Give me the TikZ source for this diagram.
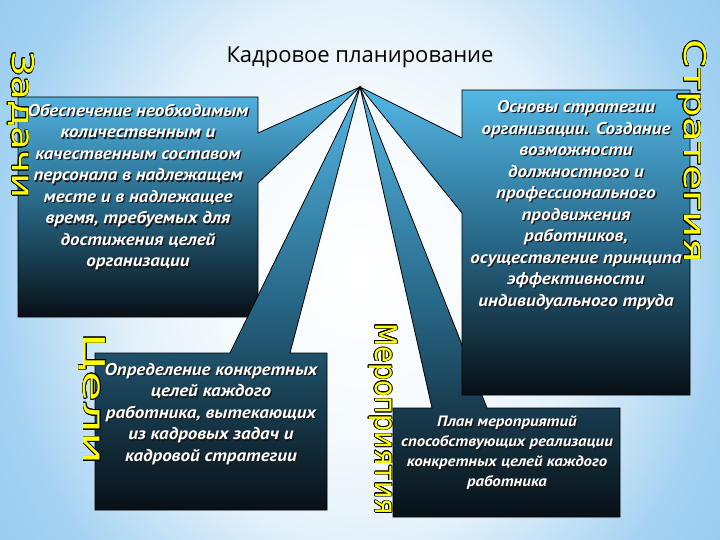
\documentclass[tikz,border=0pt]{standalone}
\usepackage{fontspec}
\usepackage{contour}
\setmainfont{Open Sans}
\newfontfamily\boxfont[FakeStretch=1.12]{PT Sans}
\newfontfamily\labelfont{DejaVu Sans}
\contourlength{0.55pt}

\definecolor{BoxTop}{RGB}{84,184,230}
\definecolor{BoxMid}{RGB}{40,104,136}
\definecolor{BoxBottom}{RGB}{8,16,22}
\definecolor{PaleSky}{RGB}{228,241,250}
\definecolor{NearWhite}{RGB}{244,250,253}
\definecolor{EdgeSky}{RGB}{166,211,242}
\definecolor{DeepSky}{RGB}{146,201,239}
\definecolor{LabelYellow}{RGB}{255,255,0}

\pgfdeclareradialshading{backdrop}{\pgfpoint{0bp}{0bp}}{color(0bp)=(white); color(10bp)=(NearWhite); color(16bp)=(PaleSky); color(25bp)=(EdgeSky); color(32bp)=(DeepSky); color(50bp)=(DeepSky)}

\tikzset{
  callout/.style={draw=black,line width=0.8pt,top color=BoxTop,bottom color=BoxBottom,middle color=BoxMid},
  boxtext/.style={text=white,align=center,inner sep=0pt,font=\boxfont\bfseries\itshape\fontsize{17}{21.5}\selectfont},
  smalltext/.style={font=\boxfont\bfseries\itshape\fontsize{15}{20}\selectfont},
  vlabel/.style={rotate=-90,inner sep=0pt,text=LabelYellow,font=\labelfont\fontsize{30}{30}\selectfont}
}

% white text with a dark drop shadow
\newcommand{\shadowed}[4][]{%
  \node[boxtext,#1,text=black!90,xshift=1.3pt,yshift=-1.3pt] at (#3) {#4};
  \node[boxtext,#1] (#2) at (#3) {#4};}

\begin{document}
\begin{tikzpicture}[x=1pt,y=-1pt]
\useasboundingbox (0,0) rectangle (720,540);
\begin{scope}
\clip (0,0) rectangle (720,540);
\shade[shading=backdrop] (0,-150) rectangle (720,690);
\end{scope}

\node[font=\fontsize{22}{26}\selectfont] (title) at (360,57) {Кадровое планирование};
\coordinate (apex) at (360,87);

% callouts
\path[callout] (18,97) -- (258,97) -- (258,133) -- (apex) -- (258,183) -- (258,317) -- (18,317) -- cycle;
\path[callout] (393,408) -- (432,408) -- (apex) -- (487,408) -- (620,408) -- (620,517) -- (393,517) -- cycle;
\path[callout] (462,90) -- (690,90) -- (690,395) -- (462,395) -- (462,213) -- (apex) -- (462,138) -- cycle;
\path[callout] (95,353) -- (230,353) -- (apex) -- (290,353) -- (327,353) -- (327,510) -- (95,510) -- cycle;

\shadowed{tasks}{138,187}{Обеспечение необходимым\\ количественным и\\ качественным составом\\ персонала в надлежащем\\ месте и в надлежащее\\ время, требуемых для\\ достижения целей\\ организации}
\shadowed{strategy}{576,205}{Основы стратегии\\ организации. Создание\\ возможности\\ должностного и\\ профессионального\\ продвижения\\ работников,\\ осуществление принципа\\ эффективности\\ индивидуального труда}
\shadowed{goals}{211,414}{Определение конкретных\\ целей каждого\\ работника, вытекающих\\ из кадровых задач и\\ кадровой стратегии}
\shadowed[smalltext]{measures}{507,453}{План мероприятий\\ способствующих реализации\\ конкретных целей каждого\\ работника}

% vertical headings
\node[vlabel,xscale=1.29] (zadachi) at (21,125) {\contour{black}{Задачи}};
\node[vlabel,xscale=1.35] (strategiya) at (692,151) {\contour{black}{Стратегия}};
\node[vlabel,xscale=1.64] (celi) at (92,399) {\contour{black}{Цели}};
\node[vlabel,xscale=0.9] (meropriyatiya) at (383,419) {\contour{black}{Мероприятия}};
\end{tikzpicture}
\end{document}
